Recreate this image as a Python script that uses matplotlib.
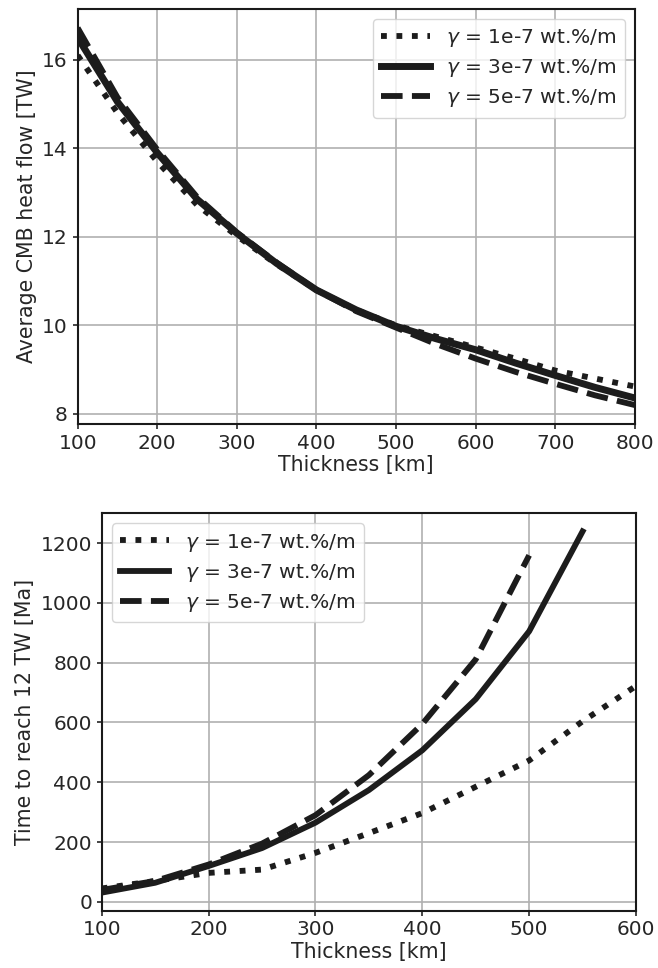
import matplotlib
matplotlib.use("Agg")
import matplotlib.pyplot as plt

# CMB heat flow vs thickness
thick_top = [100, 150, 200, 250, 300, 350, 400, 450, 500, 550, 600, 650, 700, 750, 800]
flow_g1 = [16.1, 14.8, 13.7, 12.72, 12.02, 11.38, 10.8, 10.35, 10.0, 9.75, 9.5, 9.25, 8.98, 8.8, 8.62]
flow_g3 = [16.5, 15.05, 13.9, 12.85, 12.08, 11.4, 10.8, 10.35, 9.98, 9.7, 9.45, 9.15, 8.87, 8.6, 8.36]
flow_g5 = [16.72, 15.15, 13.97, 12.9, 12.1, 11.42, 10.8, 10.32, 9.95, 9.58, 9.25, 8.95, 8.68, 8.42, 8.2]

# time to reach 12 TW vs thickness
thick_g1 = [100, 150, 200, 250, 300, 350, 400, 450, 500, 550, 600]
time_g1 = [45, 70, 97, 108, 164, 230, 297, 385, 473, 604, 722]
thick_g3 = [100, 150, 200, 250, 300, 350, 400, 450, 500, 550]
time_g3 = [31, 64, 120, 180, 265, 374, 507, 678, 905, 1239]
thick_g5 = [100, 150, 200, 250, 300, 350, 400, 450, 500]
time_g5 = [40, 70, 125, 195, 290, 424, 595, 811, 1159]

labels = [r'$\gamma$ = 1e-7 wt.%/m', r'$\gamma$ = 3e-7 wt.%/m', r'$\gamma$ = 5e-7 wt.%/m']

text_col = '#262626'
plt.rcParams.update({
    'font.family': 'DejaVu Sans',
    'text.color': text_col,
    'axes.labelcolor': text_col,
    'xtick.color': text_col,
    'ytick.color': text_col,
    'axes.edgecolor': '#1a1a1a',
    'axes.linewidth': 1.5,
    'xtick.major.size': 3.5,
    'ytick.major.size': 3.5,
    'xtick.major.width': 1.2,
    'ytick.major.width': 1.2,
    'xtick.labelsize': 14.5,
    'ytick.labelsize': 14.5,
    'axes.labelsize': 14.8,
    'legend.fontsize': 14.6,
})

fig = plt.figure(figsize=(6.58, 9.68), dpi=100)
ax1 = fig.add_axes([0.118, 0.562, 0.847, 0.4287])
ax2 = fig.add_axes([0.1546, 0.0592, 0.812, 0.4105])

line_col = '#1c1c1c'

ax1.plot(thick_top, flow_g1, ':', color=line_col, lw=4.2, label=labels[0])
ax1.plot(thick_top, flow_g3, '-', color=line_col, lw=5, label=labels[1])
ax1.plot(thick_top, flow_g5, '--', color=line_col, lw=4.2, label=labels[2])
ax1.set_xlim(100, 800)
ax1.set_xlabel('Thickness [km]', labelpad=2)
ax1.set_ylabel('Average CMB heat flow [TW]')
ax1.grid(True, color='#b0b0b0', lw=1.2)
ax1.set_axisbelow(True)
ax1.legend(loc='upper right', handlelength=2.4, labelspacing=0.4)

ax2.plot(thick_g1, time_g1, ':', color=line_col, lw=4.2, label=labels[0])
ax2.plot(thick_g3, time_g3, '-', color=line_col, lw=4.2, label=labels[1])
ax2.plot(thick_g5, time_g5, '--', color=line_col, lw=4.2, label=labels[2])
ax2.set_xlim(100, 600)
ax2.set_xlabel('Thickness [km]', labelpad=2)
ax2.set_ylabel('Time to reach 12 TW [Ma]')
ax2.grid(True, color='#b0b0b0', lw=1.2)
ax2.set_axisbelow(True)
ax2.legend(loc='upper left', handlelength=2.4, labelspacing=0.4)

fig.savefig('out.png', dpi=100)
